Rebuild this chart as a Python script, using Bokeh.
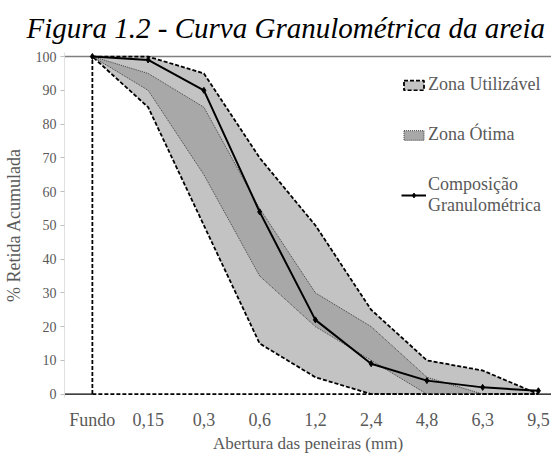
from bokeh.plotting import figure
from bokeh.models import Range1d, Span, Legend, LegendItem, FixedTicker
from bokeh.embed import file_html
from bokeh.resources import INLINE

# ---- data ----
categories = ["Fundo", "0,15", "0,3", "0,6", "1,2", "2,4", "4,8", "6,3", "9,5"]
util_upper = [100, 100, 95, 70, 50, 25, 10, 7, 0]
util_lower = [100, 85, 50, 15, 5, 0, 0, 0, 0]
otima_upper = [100, 95, 85, 55, 30, 20, 5, 0, 0]
otima_lower = [100, 90, 65, 35, 20, 10, 0, 0, 0]
composicao = [100, 99, 90, 54, 22, 9, 4, 2, 1]
y_ticks = [0, 10, 20, 30, 40, 50, 60, 70, 80, 90, 100]

xi = list(range(len(categories)))
zeros = [0] * len(categories)

SERIF = "Liberation Serif"
GREY_TXT = "#595959"

p = figure(frame_width=487, frame_height=345,
           x_range=Range1d(-0.5, 8.235), y_range=Range1d(-1, 101.2),
           output_backend="svg", toolbar_location=None,
           min_border_left=57, min_border_right=0, min_border_top=0,
           min_border_bottom=45)

p.title.text = "Figura 1.2 - Curva Granulométrica da areia"
p.title.text_font = SERIF
p.title.text_font_style = "italic"
p.title.text_font_size = "29px"
p.title.text_color = "black"
p.title.align = "left"
p.title.offset = -38
p.title.standoff = 18

p.grid.visible = False
p.outline_line_color = None
p.background_fill_color = "white"

# axes
p.xaxis.ticker = FixedTicker(ticks=xi)
p.xaxis.major_label_overrides = {i: c for i, c in zip(xi, categories)}
p.xaxis.axis_line_color = None
p.xaxis.major_tick_line_color = None
p.xaxis.minor_tick_line_color = None
p.xaxis.major_label_standoff = 6
p.xaxis.major_label_text_font = SERIF
p.xaxis.major_label_text_font_size = "18px"
p.xaxis.major_label_text_color = GREY_TXT
p.xaxis.axis_label = "Abertura das peneiras (mm)"
p.xaxis.axis_label_text_font = SERIF
p.xaxis.axis_label_text_font_size = "17px"
p.xaxis.axis_label_text_font_style = "normal"
p.xaxis.axis_label_text_color = GREY_TXT
p.xaxis.axis_label_standoff = 1

p.yaxis.ticker = FixedTicker(ticks=y_ticks)
p.yaxis.axis_line_color = "#e0e0e0"
p.yaxis.major_tick_line_color = "#bfbfbf"
p.yaxis.major_tick_out = 4
p.yaxis.major_tick_in = 0
p.yaxis.minor_tick_line_color = None
p.yaxis.major_label_standoff = 4
p.yaxis.major_label_text_font = SERIF
p.yaxis.major_label_text_font_size = "14px"
p.yaxis.major_label_text_color = GREY_TXT
p.yaxis.axis_label = "% Retida Acumulada"
p.yaxis.axis_label_text_font = SERIF
p.yaxis.axis_label_text_font_size = "18px"
p.yaxis.axis_label_text_font_style = "normal"
p.yaxis.axis_label_text_color = GREY_TXT
p.yaxis.axis_label_standoff = 9

# reference lines
p.add_layout(Span(location=0, dimension="width", line_color="black",
                  line_width=1.2, level="underlay"))
p.add_layout(Span(location=y_ticks[-1], dimension="width", line_color="#7f7f7f",
                  line_width=1.5, level="underlay"))

# baseline under the zones (white gaps + dashed)
p.line(xi, zeros, line_color="white", line_width=2)

# zones
r_util = p.patch(xi + xi[::-1], util_upper + util_lower[::-1],
                 fill_color="#c3c3c3", line_color="black", line_width=1.8,
                 line_dash="4 2")
r_otima = p.patch(xi + xi[::-1], otima_upper + otima_lower[::-1],
                  fill_color="#a8a8a8", line_color="#404040", line_width=1,
                  line_dash="1 1")

p.line(xi, zeros, line_color="black", line_width=1.8, line_dash="4 2")
p.segment(x0=[xi[0]], y0=[0], x1=[xi[0]], y1=[util_upper[0]],
          line_color="black", line_width=1.8, line_dash="4 2")

# composition
r_line = p.line(xi, composicao, line_color="black", line_width=2)
r_pts = p.scatter(xi, composicao, marker="diamond", size=6,
                  fill_color="black", line_color="black")

legend = Legend(items=[
    LegendItem(label="Zona Utilizável", renderers=[r_util]),
    LegendItem(label="Zona Ótima", renderers=[r_otima]),
    LegendItem(label="Composição\nGranulométrica", renderers=[r_line, r_pts]),
], location=(337, 181))
legend.label_text_font = SERIF
legend.label_text_font_size = "18px"
legend.label_text_color = GREY_TXT
legend.label_standoff = 2
legend.glyph_width = 25
legend.glyph_height = 12
legend.spacing = 29
legend.padding = 0
legend.margin = 0
legend.border_line_color = None
legend.background_fill_alpha = 0
p.add_layout(legend)

open("out.html", "w").write(file_html(p, INLINE))
